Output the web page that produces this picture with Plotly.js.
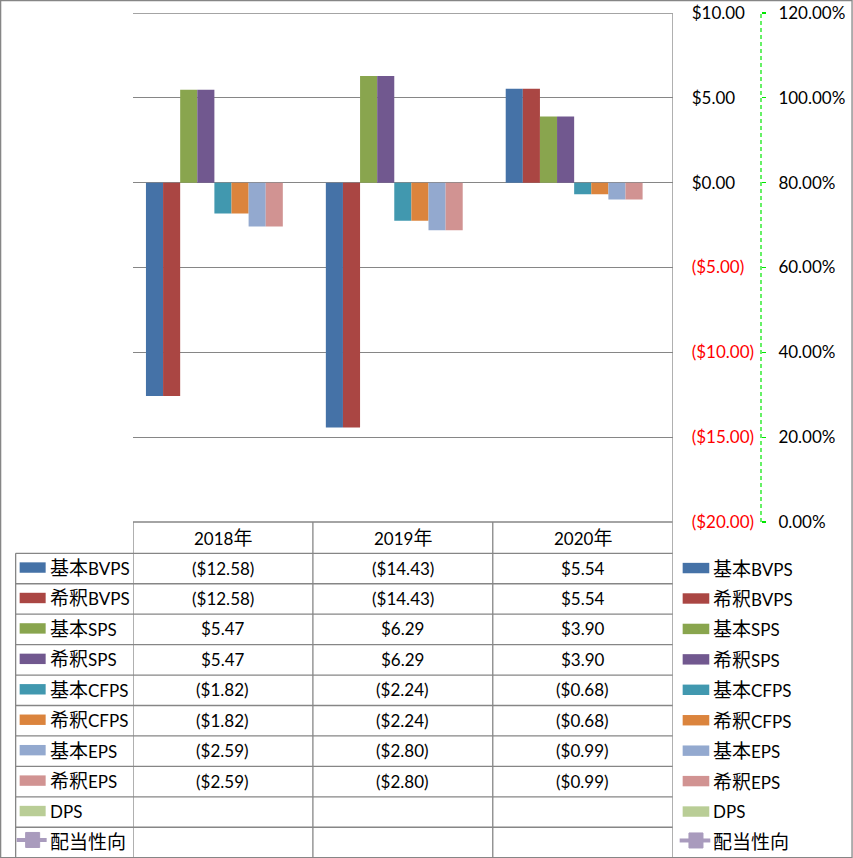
<!DOCTYPE html>
<html>
<head>
<meta charset="utf-8">
<script src="https://cdn.plot.ly/plotly-3.0.1.min.js"></script>
<style>html,body{margin:0;padding:0;background:#fff;}#chart{width:853px;height:858px;}</style>
</head>
<body>
<div id="chart"></div>
<script>
// ---- data ----
const years = ['2018年', '2019年', '2020年'];
const seriesNames = ['基本BVPS', '希釈BVPS', '基本SPS', '希釈SPS', '基本CFPS', '希釈CFPS', '基本EPS', '希釈EPS', 'DPS', '配当性向'];
const basicBVPS = [-12.58, -14.43, 5.54];
const dilutedBVPS = [-12.58, -14.43, 5.54];
const basicSPS = [5.47, 6.29, 3.90];
const dilutedSPS = [5.47, 6.29, 3.90];
const basicCFPS = [-1.82, -2.24, -0.68];
const dilutedCFPS = [-1.82, -2.24, -0.68];
const basicEPS = [-2.59, -2.80, -0.99];
const dilutedEPS = [-2.59, -2.80, -0.99];
const dps = [null, null, null];
const payoutRatio = [null, null, null];
const dollarTicks = [-20, -15, -10, -5, 0, 5, 10];
const pctTicks = [0, 0.2, 0.4, 0.6, 0.8, 1.0, 1.2];

const colors = ['#4572A7', '#AA4643', '#89A54E', '#71588F', '#4198AF', '#DB843D', '#93A9CF', '#D19392', '#B9CD96', '#A99BBD'];
const barSeries = [basicBVPS, dilutedBVPS, basicSPS, dilutedSPS, basicCFPS, dilutedCFPS, basicEPS, dilutedEPS, dps];

// ---- geometry (pixels) ----
const W = 853, H = 858;
const L = 133.3, R = 761, T = 13.3, B = 521.7;
const xp = px => (px - L) / (R - L);
const yp = py => (B - py) / (B - T);
const FONT = 'Lato, "Noto Sans CJK JP", sans-serif';
const GRID = '#868686';
const GREEN = '#00E600';

function fmt(v) {
  if (v === null || v === undefined) return '';
  const s = '$' + Math.abs(v).toFixed(2);
  return v < 0 ? '(' + s + ')' : s;
}
// enlarge CJK glyphs a little, as in the reference
const cjk = s => s.replace(/([\u3000-\u9fff]+)/g, '<span style="font-size:19px">$1</span>');

const traces = barSeries.map((vals, i) => ({
  type: 'bar', x: years, y: vals, name: seriesNames[i],
  marker: {color: colors[i], line: {width: 0}}, yaxis: 'y', hoverinfo: 'none'
}));
traces.push({
  type: 'scatter', mode: 'lines+markers', x: years, y: payoutRatio, name: seriesNames[9],
  yaxis: 'y2', line: {color: colors[9], width: 3}, marker: {symbol: 'square', size: 10, color: colors[9]}
});

const shapes = [];
const annotations = [];
const line = (x0, y0, x1, y1, xref, extra) => Object.assign({
  type: 'line', xref: xref || 'paper', yref: 'paper', x0: x0, y0: y0, x1: x1, y1: y1,
  line: {color: GRID, width: 1.3}, layer: 'above'
}, extra || {});

// outer border
shapes.push({type: 'rect', xref: 'paper', yref: 'paper', x0: xp(1), x1: xp(852), y0: yp(1), y1: yp(857),
  line: {color: GRID, width: 1.3}, fillcolor: 'rgba(0,0,0,0)'});

// top gridline at the axis maximum
shapes.push({type: 'line', xref: 'x', yref: 'y', x0: -0.5, x1: 2.5, y0: dollarTicks[dollarTicks.length - 1],
  y1: dollarTicks[dollarTicks.length - 1], line: {color: GRID, width: 1.3}, layer: 'below'});

// table geometry
const headerBottom = 553;
const rowH = 30.4;
const nRows = seriesNames.length;
const tableBottom = headerBottom + rowH * nRows;
shapes.push(line(-0.5, yp(B), 2.5, yp(B), 'x'));
for (let r = 0; r <= nRows; r++) {
  const y = headerBottom + r * rowH;
  shapes.push(line(xp(16), yp(y), xp(672.7), yp(y)));
}
shapes.push(line(xp(16), yp(headerBottom), xp(16), yp(tableBottom)));
[-0.5, 0.5, 1.5].forEach(c => shapes.push(line(c, yp(B), c, yp(tableBottom), 'x')));
shapes.push(line(2.5, yp(T), 2.5, yp(tableBottom), 'x'));
// secondary axis dashed line
shapes.push(line(1, 0, 1, 1, 'paper', {line: {color: GREEN, width: 1.2, dash: '4px,3px'}}));

// header texts
years.forEach((yr, i) => annotations.push({
  xref: 'x', yref: 'paper', x: i, y: yp((B + headerBottom) / 2), text: cjk(yr), showarrow: false,
  font: {family: FONT, size: 17, color: '#000'}, xanchor: 'center', yanchor: 'middle'
}));

const allSeries = barSeries.concat([payoutRatio]);
allSeries.forEach((vals, r) => {
  const rc = headerBottom + rowH * (r + 0.5);
  vals.forEach((v, i) => annotations.push({
    xref: 'x', yref: 'paper', x: i, y: yp(rc - 0.5), text: fmt(v), showarrow: false,
    font: {family: FONT, size: 17, color: '#000'}, xanchor: 'center', yanchor: 'middle'
  }));
  [[20, 46, 48, rc - 1], [682.7, 709.3, 711, rc - 0.5]].forEach(([k0, k1, tx, kc], side) => {
    if (r < 9) {
      shapes.push({type: 'rect', xref: 'paper', yref: 'paper', x0: xp(k0), x1: xp(k1), y0: yp(kc + 5.2), y1: yp(kc - 5.2),
        fillcolor: colors[r], line: {width: 0}, layer: 'above'});
    } else {
      const ly = kc - 1.5;
      shapes.push({type: 'line', xref: 'paper', yref: 'paper', x0: xp(k0 - 3), x1: xp(k1 + 1), y0: yp(ly), y1: yp(ly),
        line: {color: colors[r], width: 4}, layer: 'above'});
      const mc = (k0 + k1) / 2;
      shapes.push({type: 'rect', xref: 'paper', yref: 'paper', x0: xp(mc - 7), x1: xp(mc + 7), y0: yp(ly + 7.5), y1: yp(ly - 7.5),
        fillcolor: colors[r], line: {color: colors[r], width: 1}, layer: 'above'});
    }
    annotations.push({
      xref: 'paper', yref: 'paper', x: xp(tx), y: yp(kc), text: cjk(seriesNames[r]), showarrow: false,
      font: {family: FONT, size: 17, color: '#000'}, xanchor: 'left', yanchor: 'middle'
    });
  });
});

const layout = {
  width: W, height: H,
  margin: {l: L, r: W - R, t: T, b: H - B, pad: 0},
  paper_bgcolor: '#fff', plot_bgcolor: '#fff',
  showlegend: false,
  barmode: 'group', bargap: 0.144, bargroupgap: 0,
  font: {family: FONT, size: 17, color: '#000'},
  xaxis: {domain: [0, xp(672.7)], type: 'category', range: [-0.5, 2.5], showticklabels: false,
    showgrid: false, zeroline: false, showline: false, ticks: '', fixedrange: true},
  yaxis: {side: 'right', anchor: 'x', range: [-20, 10], tickvals: dollarTicks,
    ticktext: dollarTicks.map(v => v < 0 ? '<span style="color:#FF0000">' + fmt(v) + '</span>' : fmt(v)),
    showgrid: true, gridcolor: GRID, gridwidth: 1.3, zeroline: false, showline: false, ticks: '',
    ticklabelstandoff: 18, tickfont: {family: FONT, size: 17, color: '#000'}},
  yaxis2: {overlaying: 'y', side: 'right', anchor: 'free', position: 1, range: [0, 1.2], tickvals: pctTicks,
    tickformat: '.2%', showgrid: false, zeroline: false, showline: false, ticks: 'outside', ticklen: 4,
    tickcolor: GREEN, tickwidth: 1.2, ticklabelstandoff: 9, tickfont: {family: FONT, size: 17, color: '#000'}},
  shapes: shapes,
  annotations: annotations
};

Plotly.newPlot('chart', traces, layout, {staticPlot: true, displayModeBar: false});
</script>
</body>
</html>
